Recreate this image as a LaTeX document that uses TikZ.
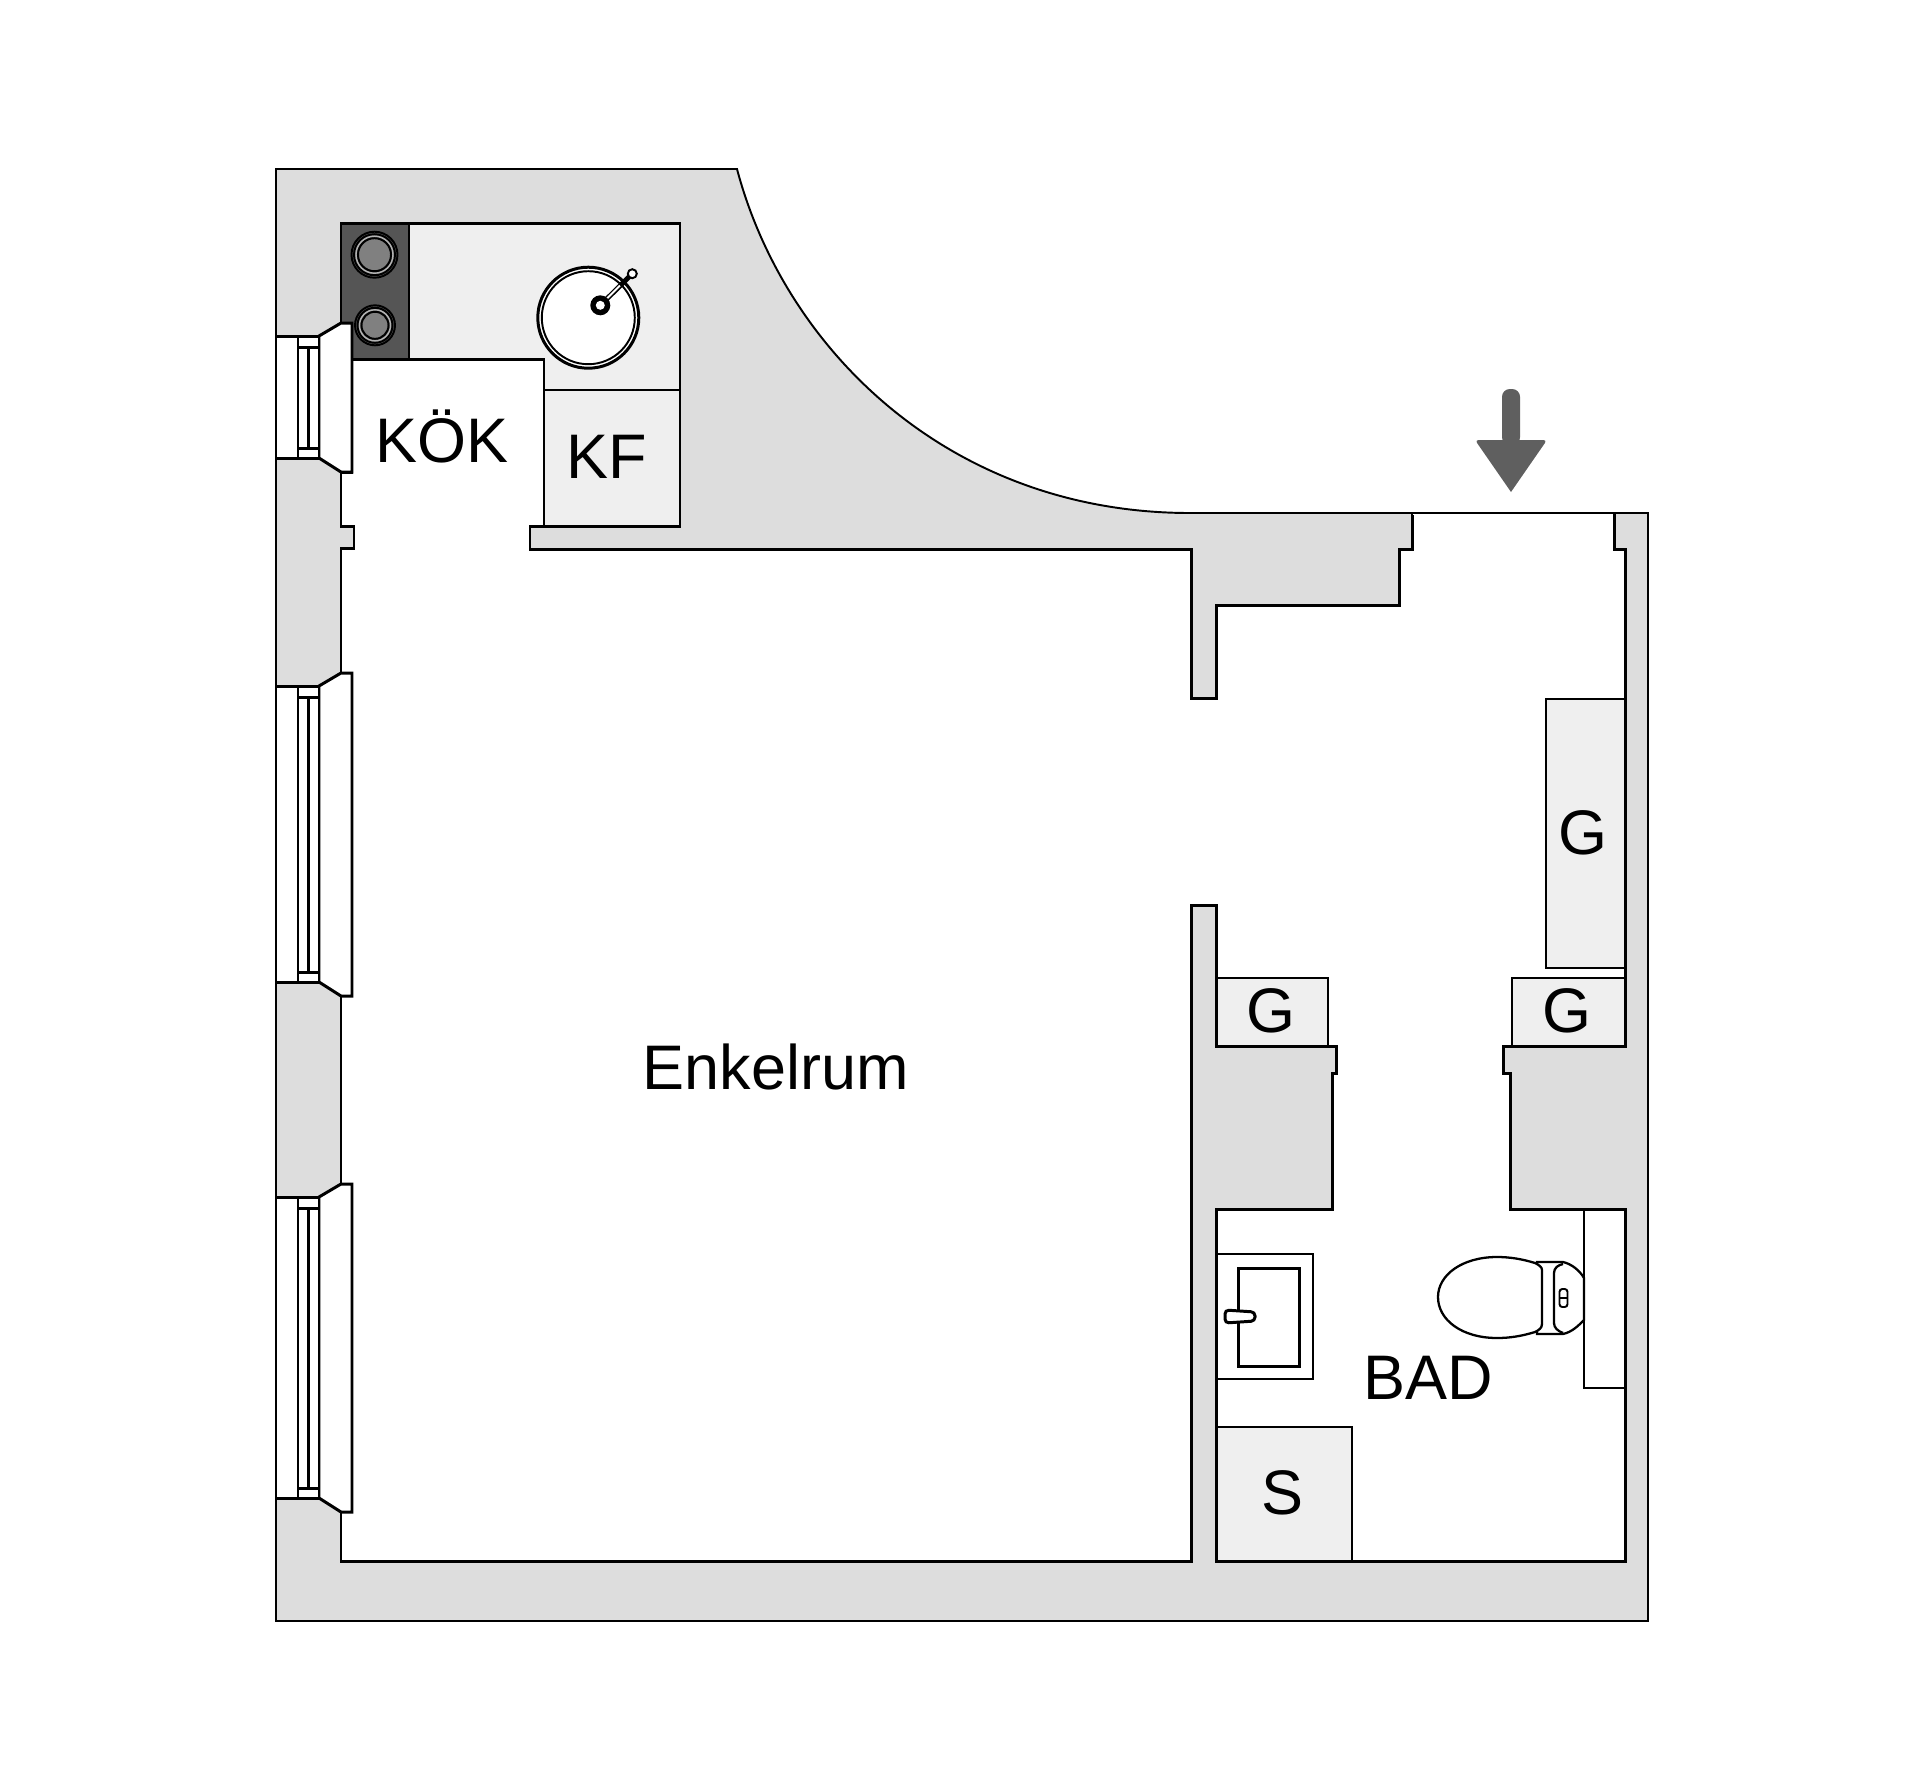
\documentclass[tikz,border=0pt]{standalone}
\usepackage{fontspec}
\setmainfont{Liberation Sans}
\definecolor{wallgray}{HTML}{DDDDDD}
\definecolor{cabinetgray}{HTML}{EFEFEF}
\definecolor{cookergray}{HTML}{555555}
\definecolor{plategray}{HTML}{808080}
\definecolor{arrowgray}{HTML}{5F5F5F}
\tikzset{
  thinline/.style={line width=0.55pt},
  wallline/.style={line width=0.85pt},
  cabinet/.style={thinline,draw=black,fill=cabinetgray},
  fixture/.style={thinline,draw=black,fill=white},
  roomlabel/.style={inner sep=0pt,text height=12.8pt,text depth=0pt,font=\fontsize{17.9}{20}\selectfont},
}
\newcommand{\roompath}{(341,1561) -- (1191,1561) -- (1191,905) -- (1216,905) -- (1216,1046)
  -- (1336,1046) -- (1336,1073) -- (1332,1073) -- (1332,1209) -- (1216,1209) -- (1216,1561)
  -- (1625,1561) -- (1625,1209) -- (1510,1209) -- (1510,1073) -- (1503,1073) -- (1503,1046)
  -- (1625,1046) -- (1625,549) -- (1614,549) -- (1614,513) -- (1412,513) -- (1412,549)
  -- (1399,549) -- (1399,605) -- (1216,605) -- (1216,698) -- (1191,698) -- (1191,549)
  -- (530,549) -- (530,526) -- (544,526) -- (544,359) -- (352,359) -- (352,472) -- (341,472)
  -- (341,526) -- (354,526) -- (354,548) -- (341,548) -- cycle}
\begin{document}
\begin{tikzpicture}[x=0.01cm,y=-0.01cm]
    \useasboundingbox (0,0) rectangle (1920,1787);

    % Muros
    \draw[thinline,fill=wallgray] (276,169) -- (737,169) .. controls (785,350) and (950,513) .. (1190,513)
        -- (1648,513) -- (1648,1621) -- (276,1621) -- cycle;

    % Interior
    \fill[white] \roompath;

    % Muebles del baño y el pasillo
    \draw[cabinet] (1546,699) rectangle (1625,968);
    \draw[cabinet] (1512,978) rectangle (1625,1046);
    \draw[cabinet] (1216,978) rectangle (1328,1046);
    \draw[cabinet] (1216,1427) rectangle (1352,1561);
    \draw[fixture] (1216,1254) rectangle (1313,1379);
    \draw[fixture] (1584,1209) rectangle (1625,1388);
    \draw[wallline] \roompath;

    % Umbral de la entrada
    \draw[wallline,white] (1413,513) -- (1613,513);
    \draw[thinline] (1412,513) -- (1614,513);

    % Cocina
    \draw[wallline,fill=cabinetgray] (341,223) -- (680,223) -- (680,526) -- (544,526) -- (544,359) -- (341,359) -- cycle;
    \draw[thinline] (544,390) -- (680,390);
    \draw[wallline,fill=cookergray] (341,223) rectangle (409,359);

    % Placas
    \foreach \px/\py/\pr in {374.5/254.7/23, 375/325.3/20}{
        \draw[thinline] (\px,\py) circle ({\pr*1});
        \draw[thinline,draw=black] (\px,\py) circle ({\pr-2.5});
        \draw[line width=0.4pt,draw=plategray!60!white] (\px,\py) circle ({\pr-4.5});
        \draw[thinline,fill=plategray] (\px,\py) circle ({\pr-6.5});
    }

    % Fregadero
    \draw[wallline,fill=white] (588.3,317.7) circle (50.5);
    \draw[thinline,fill=white] (588.3,317.7) circle (46.5);
    \draw[line width=1.4pt] (600.3,305.3) -- (632.3,273.7);
    \draw[line width=0.55pt,white] (600.3,305.3) -- (620,285.5);
    \draw[thinline,fill=white] (632.3,273.7) circle (4.5);
    \fill (600.3,305.3) circle (10);
    \fill[white] (600.3,305.3) circle (4.5);

    % Ventanas
    \foreach \wtop/\wbot in {336/458, 686/982, 1197/1498}{
        \draw[wallline,fill=white] (319,\wtop) -- (341,\wtop-13) -- (352,\wtop-13) -- (352,\wbot+14) -- (341,\wbot+14) -- (319,\wbot) -- cycle;
        \draw[wallline,fill=white] (276,\wtop) rectangle (319,\wbot);
        \draw[thinline] (298,\wtop) -- (298,\wbot);
        \draw[wallline] (298,\wtop+11) -- (319,\wtop+11);
        \draw[wallline] (298,\wbot-10) -- (319,\wbot-10);
        \draw[wallline] (308.5,\wtop+11) -- (308.5,\wbot-10);
    }

    % Lavabo
    \draw[wallline] (1238,1268) rectangle (1299,1366);
    \draw[wallline,fill=white,rounded corners=1.1pt] (1225,1310) -- (1255,1312) -- (1255,1321) -- (1225,1323) -- cycle;

    % Inodoro
    \draw[thinline,line width=0.65pt,fill=white] (1537,1262) -- (1563,1262) .. controls (1572,1264) and (1580,1271) .. (1584,1278)
        -- (1584,1320) .. controls (1578,1326) and (1572,1332) .. (1563,1334) -- (1537,1334) -- cycle;
    \draw[thinline,line width=0.65pt,fill=white] (1535,1263) .. controls (1522,1259) and (1510,1257) .. (1497,1257)
        .. controls (1462,1257) and (1438,1275) .. (1438,1297) .. controls (1438,1320) and (1462,1338) .. (1497,1338)
        .. controls (1510,1338) and (1522,1336) .. (1535,1332) .. controls (1539,1330) and (1542,1328) .. (1542,1324)
        -- (1542,1270) .. controls (1542,1267) and (1539,1265) .. (1535,1263) -- cycle;
    \draw[thinline,line width=0.65pt] (1563,1264) .. controls (1558,1265) and (1554,1268) .. (1554,1273) -- (1554,1323)
        .. controls (1554,1328) and (1558,1331) .. (1563,1333);
    \draw[thinline,rounded corners=0.8pt] (1559.5,1289) rectangle (1567.5,1307);
    \draw[thinline] (1559.5,1298) -- (1567.5,1298);

    % Flecha de entrada
    \fill[arrowgray,rounded corners=2.2pt] (1502,445) -- (1502,389) -- (1520,389) -- (1520,445) -- cycle;
    \fill[arrowgray] (1511,492) [rounded corners=1pt] -- (1475,440) -- (1547,440) [sharp corners] -- cycle;

    % Textos
    \node[roomlabel] (kok) at (442,440) {KÖK};
    \node[roomlabel] (kf) at (607,456) {KF};
    \node[roomlabel] (enkelrum) at (775.7,1067.2) {Enkelrum};
    \node[roomlabel] (gtall) at (1583.3,832) {G};
    \node[roomlabel] (gleft) at (1270.7,1010) {G};
    \node[roomlabel] (gright) at (1566.7,1010) {G};
    \node[roomlabel] (bad) at (1428,1376.7) {BAD};
    \node[roomlabel] (sbox) at (1282,1492) {S};
\end{tikzpicture}
\end{document}
